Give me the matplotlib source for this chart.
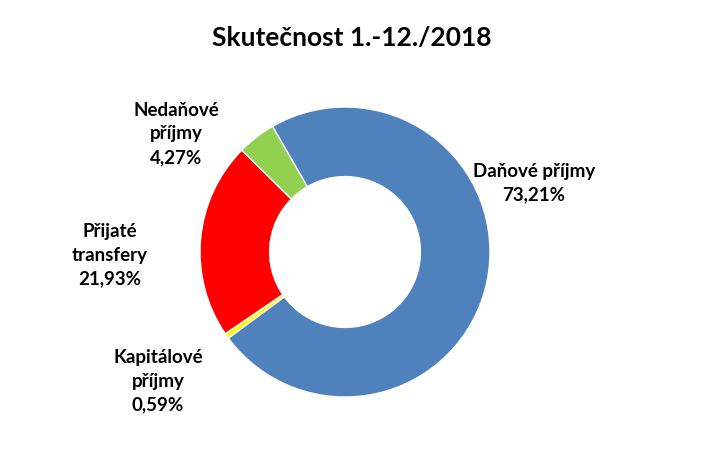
import matplotlib
matplotlib.use("Agg")
import matplotlib.pyplot as plt

categories = ["Daňové příjmy", "Kapitálové\npříjmy", "Přijaté\ntransfery", "Nedaňové\npříjmy"]
values = [73.21, 0.59, 21.93, 4.27]
colors = ["#4F81BD", "#FFFF00", "#FF0000", "#92D050"]
title = "Skutečnost 1.-12./2018"

W, H = 706, 457
fig = plt.figure(figsize=(W / 100, H / 100), dpi=100)
ax = fig.add_axes([0, 0, 1, 1])
R = 145.0
cx, cy = 345, H - 252

ax.pie(values, colors=colors, startangle=120, counterclock=False, radius=1.0,
       wedgeprops=dict(width=0.48, edgecolor="white", linewidth=1.0))
ax.set_xlim(-cx / R, (W - cx) / R)
ax.set_ylim(-cy / R, (H - cy) / R)
ax.set_aspect("equal")
ax.axis("off")

font = ["Lato", "DejaVu Sans"]

def fmt(v):
    return f"{v:.2f}".replace(".", ",") + "%"

# label positions in pixels (x, y from top)
label_pos = [(534, 183), (158, 381), (110, 255), (176, 134)]
for cat, v, (px, py) in zip(categories, values, label_pos):
    fig.text(px / W, 1 - py / H, cat + "\n" + fmt(v), ha="center", va="center",
             fontsize=13.5, fontweight="bold", family=font, linespacing=1.5)

fig.text(352 / W, 1 - 38 / H, title, ha="center", va="center", fontsize=19,
         fontweight="bold", family=font)

fig.savefig("out.png", dpi=100, facecolor="white")
